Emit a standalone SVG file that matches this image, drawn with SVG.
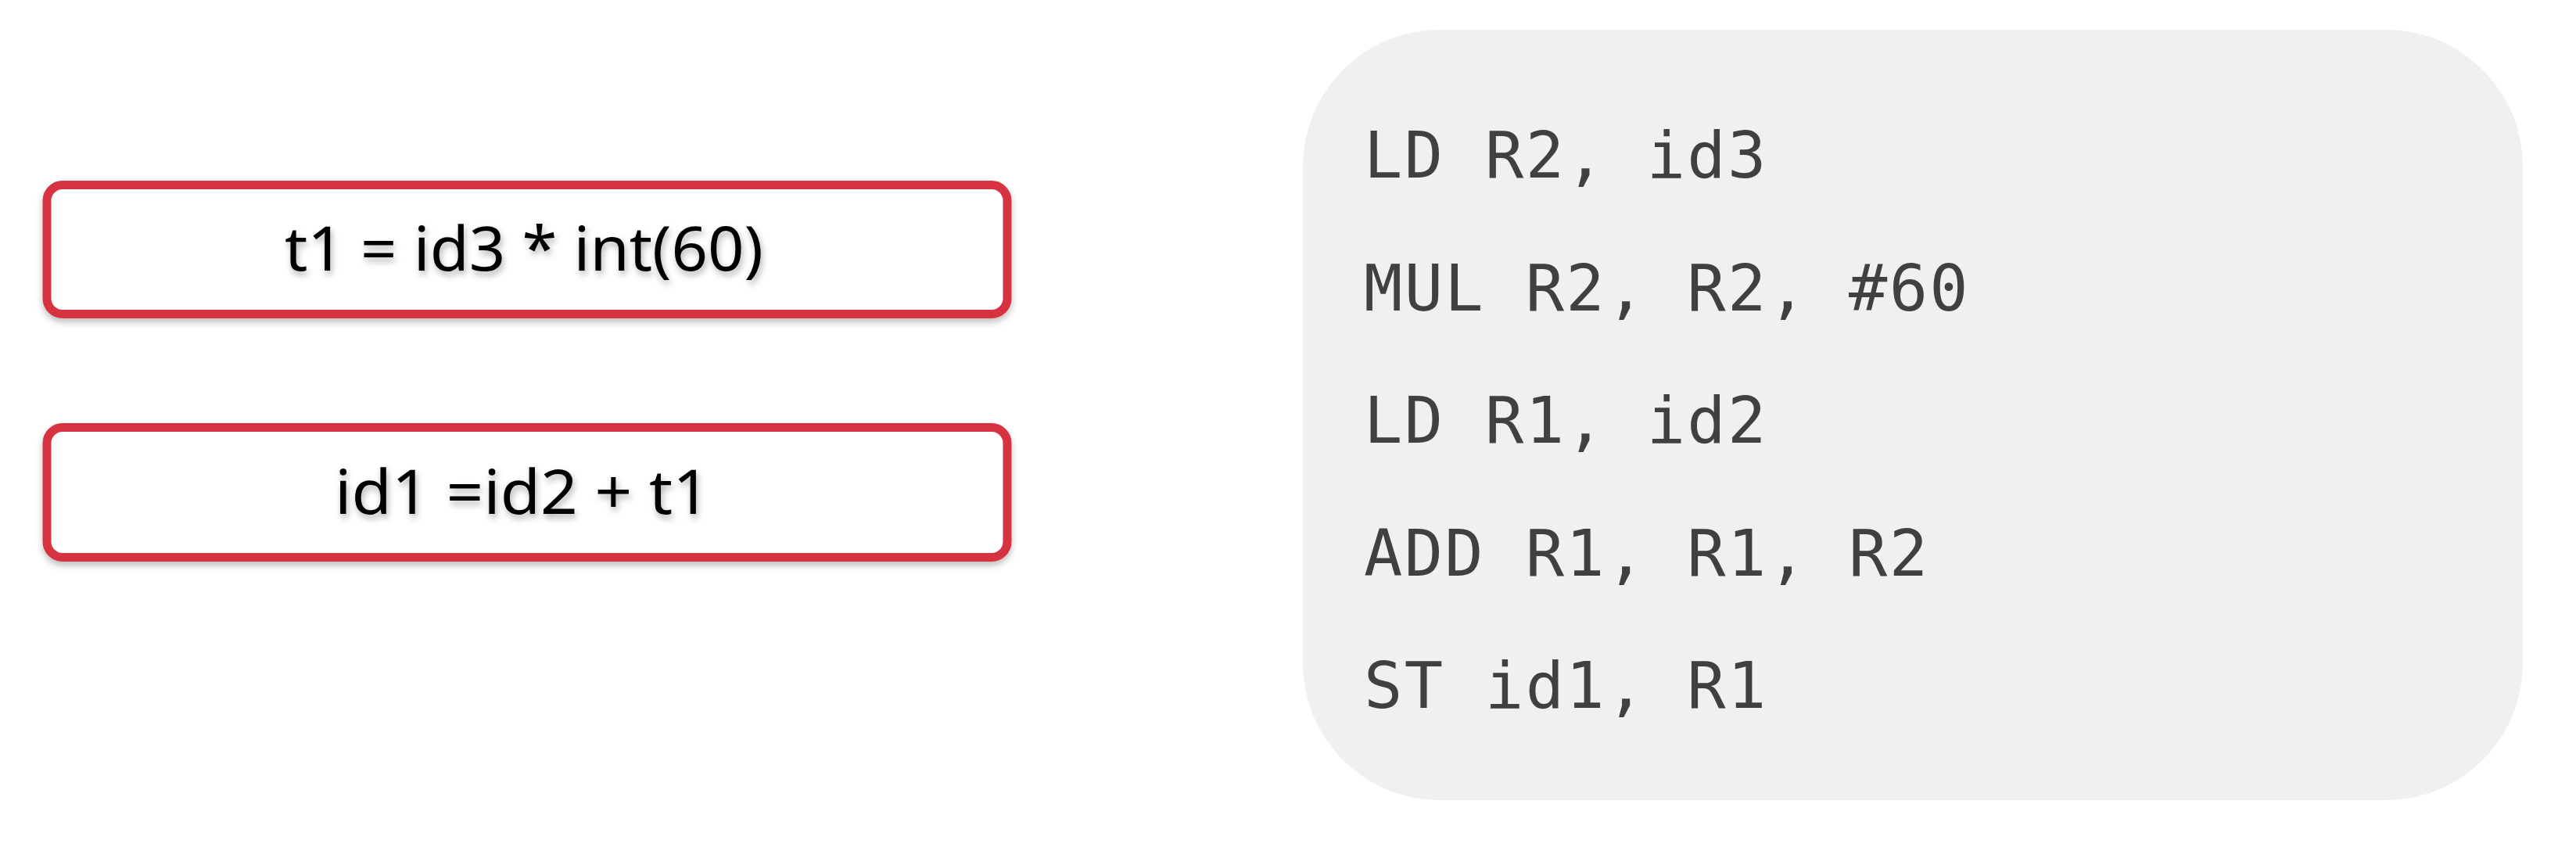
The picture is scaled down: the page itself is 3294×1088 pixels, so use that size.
<svg xmlns="http://www.w3.org/2000/svg" width="3294" height="1088" viewBox="0 0 3294 1088">
<defs>
<filter id="sh" x="-10%" y="-30%" width="120%" height="160%">
<feDropShadow dx="0" dy="5" stdDeviation="4" flood-color="#000" flood-opacity="0.25"/>
</filter>
<filter id="tsh" x="-10%" y="-30%" width="120%" height="160%">
<feDropShadow dx="2" dy="5" stdDeviation="4" flood-color="#000" flood-opacity="0.3"/>
</filter>
</defs>
<style>
.box{fill:#fff;stroke:#d63340;stroke-width:11}
.lbl{font-family:"Noto Sans","Open Sans","Liberation Sans",sans-serif;font-size:79px;fill:#000;text-anchor:middle}
.code{font-family:"DejaVu Sans Mono","Liberation Mono",monospace;font-size:82px;fill:#404040;letter-spacing:2.3px}
</style>
<rect width="3294" height="1088" fill="#fff"/>
<g id="code-panel">
<rect x="1666" y="38" width="1560" height="985" rx="175" ry="175" fill="#f0f0f0"/>
<text class="code" x="1744" y="227">LD R2, id3</text>
<text class="code" x="1744" y="397">MUL R2, R2, #60</text>
<text class="code" x="1744" y="566">LD R1, id2</text>
<text class="code" x="1744" y="736">ADD R1, R1, R2</text>
<text class="code" x="1744" y="905">ST id1, R1</text>
</g>
<g id="node-t1">
<rect class="box" x="60" y="236.5" width="1228" height="165" rx="20" filter="url(#sh)"/>
<text class="lbl" x="670" y="346" textLength="612" lengthAdjust="spacingAndGlyphs" filter="url(#tsh)">t1 = id3 * int(60)</text>
</g>
<g id="node-id1">
<rect class="box" x="60" y="546.5" width="1228" height="166" rx="20" filter="url(#sh)"/>
<text class="lbl" x="668" y="657" textLength="480" lengthAdjust="spacingAndGlyphs" filter="url(#tsh)">id1 =id2 + t1</text>
</g>
<g id="connectors"></g>
</svg>
